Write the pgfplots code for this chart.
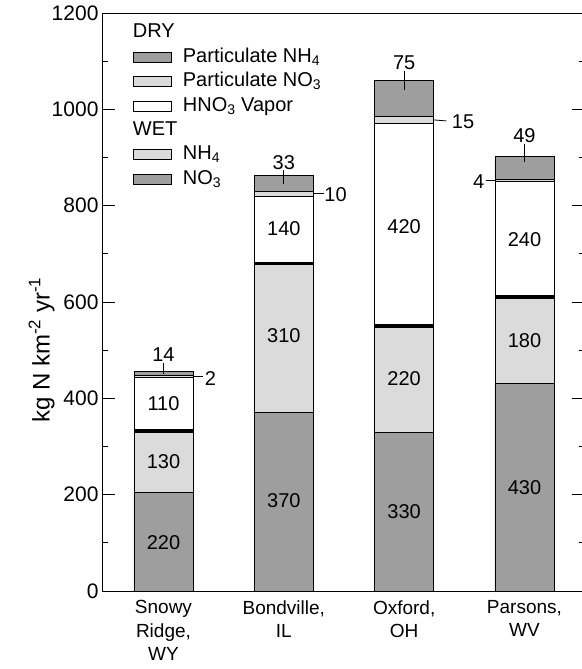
\documentclass[border=0pt]{standalone}
\usepackage{fontspec}
\setmainfont{Liberation Sans}
\usepackage{pgfplots}
\pgfplotsset{compat=1.18}
\definecolor{darkfill}{gray}{0.62}
\definecolor{lightfill}{gray}{0.86}
\pgfplotsset{
  boxlegend/.style={legend image code/.code={\draw[##1,line width=0.8pt] (0pt,-5pt) rectangle (38pt,5pt);}},
  samebox/.style={at={(0pt,0pt)}, anchor=south west, scale only axis, width=483pt, height=578pt,
    xmin=-0.511, xmax=3.503, ymin=0, ymax=1200, clip=false},
}
\tikzset{vlab/.style={font=\fontsize{20}{24}\selectfont, inner sep=0pt}}
\begin{document}
\begin{tikzpicture}
\useasboundingbox (-102pt,-78pt) rectangle (479pt,591pt);
\begin{axis}[
  samebox,
  ybar stacked, bar width=59pt,
  axis line style={line width=0.8pt},
  xtick={0,1,2,3},
  xticklabels={{Snowy\\Ridge,\\WY},{Bondville,\\IL},{Oxford,\\OH},{Parsons,\\WV}},
  xticklabel style={align=center, font=\fontsize{19}{23.3}\selectfont, yshift=-6pt},
  major x tick style={draw=none},
  ytick={0,200,...,1200},
  minor ytick={100,300,...,1100},
  tick align=inside,
  major tick length=13pt, minor tick length=6pt,
  every tick/.style={black, line width=0.8pt},
  yticklabel style={font=\fontsize{21}{24}\selectfont},
  /pgf/number format/assume math mode=true,
  /pgf/number format/1000 sep={},
  ylabel={kg N km\textsuperscript{-2} yr\textsuperscript{-1}},
  ylabel style={at={(axis description cs:-0.125,0.417)}, anchor=center, font=\fontsize{24}{26}\selectfont},
  legend style={at={(axis description cs:0.064,0.985)}, anchor=north west, draw=none, fill=none, inner sep=0pt,
    font=\fontsize{20}{24}\selectfont, row sep=2.4pt, column sep=10pt,
    nodes={inner sep=1pt, text height=15pt, text depth=5pt}},
  legend cell align=left,
]
\addlegendimage{empty legend}\addlegendentry{\makebox[0pt][l]{\hspace*{-50pt}DRY}}
\addlegendimage{boxlegend, fill=darkfill, draw=black}\addlegendentry{Particulate NH\textsubscript{4}}
\addlegendimage{boxlegend, fill=lightfill, draw=black}\addlegendentry{Particulate NO\textsubscript{3}}
\addlegendimage{boxlegend, fill=white, draw=black}\addlegendentry{HNO\textsubscript{3} Vapor}
\addlegendimage{empty legend}\addlegendentry{\makebox[0pt][l]{\hspace*{-50pt}WET}}
\addlegendimage{boxlegend, fill=lightfill, draw=black}\addlegendentry{NH\textsubscript{4}}
\addlegendimage{boxlegend, fill=darkfill, draw=black}\addlegendentry{NO\textsubscript{3}}

% wet NO3
\addplot[fill=darkfill, draw=black, line width=0.8pt, forget plot] coordinates {(0,205) (1,370) (2,330) (3,430)};
% wet NH4
\addplot[fill=lightfill, draw=black, line width=0.8pt, forget plot] coordinates {(0,127) (1,310) (2,220) (3,180)};
% HNO3 vapor
\addplot[fill=white, draw=black, line width=0.8pt, forget plot] coordinates {(0,112) (1,140) (2,420) (3,240)};
% particulate NO3
\addplot[fill=lightfill, draw=black, line width=0.8pt, forget plot] coordinates {(0,3) (1,10) (2,15) (3,4)};
% particulate NH4
\addplot[fill=darkfill, draw=black, line width=0.8pt, forget plot] coordinates {(0,9) (1,33) (2,75) (3,49)};
\end{axis}

% overlay axis: wet/dry separator and value labels
\begin{axis}[samebox, hide axis]
% thick line at the top of the wet deposition (wet total per site)
\addplot[only marks, mark=-, mark size=29.5pt, mark options={line width=3.8pt, solid}, black] coordinates {(0,332) (1,680) (2,550) (3,610)};

\node[vlab] at (axis cs:0,100) {220};
\node[vlab] at (axis cs:0,268) {130};
\node[vlab] at (axis cs:0,390) {110};
\node[vlab] at (axis cs:0,490) {14};
\draw[line width=0.8pt] (axis cs:0,474) -- (axis cs:0,450);
\draw[line width=0.8pt] (axis cs:0.245,445) -- (axis cs:0.33,445);
\node[vlab] at (axis cs:0.39,441) {2};

\node[vlab] at (axis cs:1,188) {370};
\node[vlab] at (axis cs:1,530) {310};
\node[vlab] at (axis cs:1,752) {140};
\node[vlab] at (axis cs:1,890) {33};
\draw[line width=0.8pt] (axis cs:1,874) -- (axis cs:1,845);
\draw[line width=0.8pt] (axis cs:1.245,825) -- (axis cs:1.33,825);
\node[vlab] at (axis cs:1.43,823) {10};

\node[vlab] at (axis cs:2,165) {330};
\node[vlab] at (axis cs:2,440) {220};
\node[vlab] at (axis cs:2,756) {420};
\node[vlab] at (axis cs:2,1096) {75};
\draw[line width=0.8pt] (axis cs:2,1080) -- (axis cs:2,1040);
\draw[line width=0.8pt] (axis cs:2.245,978) -- (axis cs:2.35,976);
\node[vlab] at (axis cs:2.49,975) {15};

\node[vlab] at (axis cs:3,215) {430};
\node[vlab] at (axis cs:3,520) {180};
\node[vlab] at (axis cs:3,730) {240};
\node[vlab] at (axis cs:3,945) {49};
\draw[line width=0.8pt] (axis cs:3,929) -- (axis cs:3,890);
\draw[line width=0.8pt] (axis cs:2.68,852) -- (axis cs:2.755,852);
\node[vlab] at (axis cs:2.62,850) {4};
\end{axis}
\end{tikzpicture}
\end{document}
